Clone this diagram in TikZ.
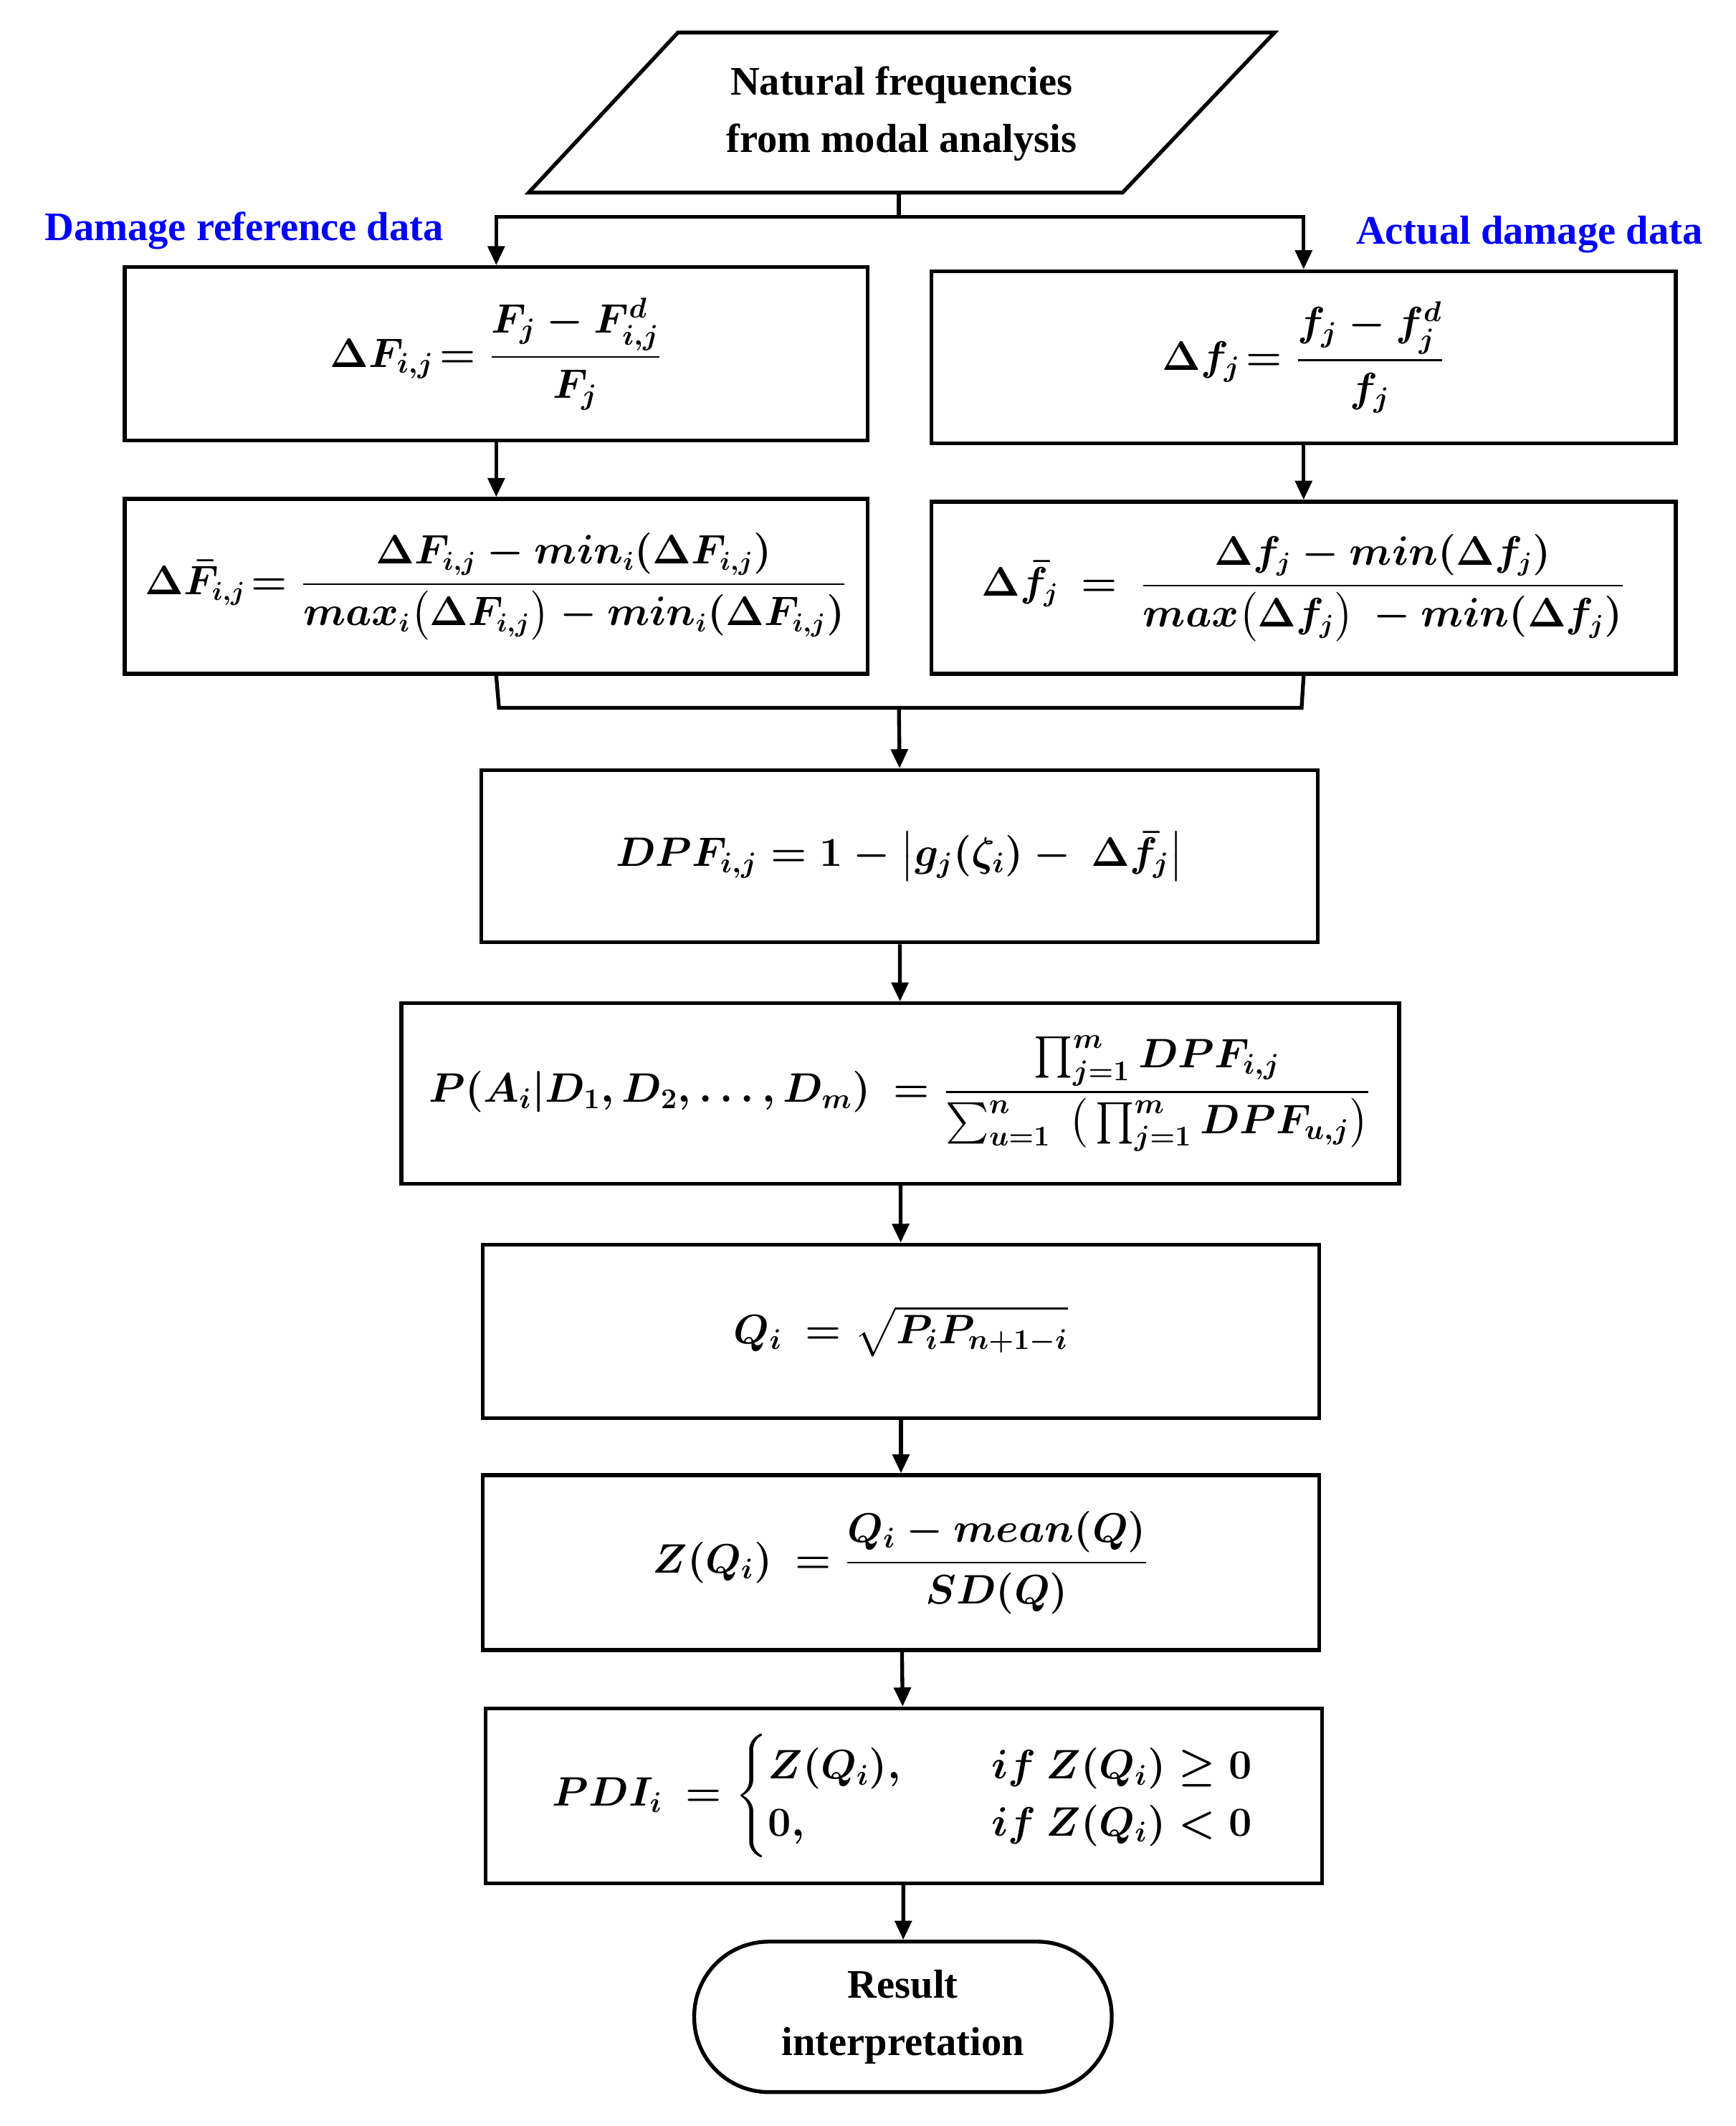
\documentclass[tikz,border=0pt]{standalone}
\usepackage{amsmath}
\usepackage{fontspec}
\setmainfont{Liberation Serif}
\usetikzlibrary{arrows.meta}
\begin{document}
\boldmath
\begin{tikzpicture}[x=0.02cm,y=-0.02cm,
  box/.style={draw,line width=1.6pt,inner sep=0pt,font=\fontsize{17}{20}\selectfont\bfseries},
  lab/.style={text=blue,font=\fontsize{17}{20}\selectfont\bfseries},
  arr/.style={line width=1.6pt,-{Triangle[length=8pt,width=7pt]}},
  ln/.style={line width=1.6pt}]
\useasboundingbox (0,0) rectangle (1280,1568);
\draw[ln] (390,142) -- (500,24) -- (940,24) -- (828,142) -- cycle;
\node[font=\fontsize{17}{24}\selectfont\bfseries,align=center] (top) at (665,84) {Natural frequencies\\from modal analysis};
\coordinate (ts) at (663,142);
\coordinate (j1) at (663,160);
\node[lab] (l1) at (180,170) {Damage reference data};
\node[lab] (l2) at (1128,173) {Actual damage data};
\node[box,minimum width=10.96cm,minimum height=2.56cm] (a1) at (366,261) {$\Delta F_{i,j}\!=\dfrac{F_j-F^d_{i,j}}{F_j}$};
\node[box,minimum width=10.98cm,minimum height=2.54cm] (b1) at (961.5,263.5) {$\Delta f_j\!=\dfrac{f_j-f^d_j}{f_j}$};
\node[box,minimum width=10.96cm,minimum height=2.58cm,font=\fontsize{16}{19}\selectfont] (a2) at (366,432.5) {$\Delta\bar F_{i,j}\!=\dfrac{\Delta F_{i,j}-min_i(\Delta F_{i,j})}{max_i\big(\Delta F_{i,j}\big)-min_i(\Delta F_{i,j})}$};
\node[box,minimum width=10.98cm,minimum height=2.54cm,font=\fontsize{16}{19}\selectfont] (b2) at (961.5,433.5) {$\Delta\bar f_j\ =\ \dfrac{\Delta f_j-min(\Delta f_j)}{max\big(\Delta f_j\big)\ -min(\Delta f_j)}$};
\coordinate (ja) at (368,522);
\coordinate (jb) at (960,522);
\coordinate (jm) at (663,522);
\node[box,minimum width=12.34cm,minimum height=2.54cm] (c) at (663.5,631.5) {$DPF_{i,j}=1-\left|g_j(\zeta_i)-\ \Delta\bar f_j\right|$};
\node[box,minimum width=14.72cm,minimum height=2.66cm] (d) at (664,806.5) {$P(A_i|D_1,D_2,\dots,D_m)\ =\dfrac{\prod_{j=1}^m DPF_{i,j}}{\sum_{u=1}^n\ \big(\prod_{j=1}^m DPF_{u,j}\big)}$};
\node[box,minimum width=12.34cm,minimum height=2.56cm] (e) at (664.5,982) {$Q_i\ =\sqrt{P_iP_{n+1-i}}$};
\node[box,minimum width=12.34cm,minimum height=2.58cm] (f) at (664.5,1152.5) {$Z(Q_i)\ =\dfrac{Q_i-mean(Q)}{SD(Q)}$};
\node[box,minimum width=12.34cm,minimum height=2.58cm] (g) at (666.5,1324.5) {$PDI_i\ =\begin{cases}Z(Q_i), & \quad\ if\ Z(Q_i)\ge 0\\ 0, & \quad\ if\ Z(Q_i)<0\end{cases}$};
\node[box,rounded corners=1.1cm,minimum width=6.16cm,minimum height=2.22cm,align=center,font=\fontsize{17}{24}\selectfont\bfseries] (h) at (666,1487.5) {Result\\interpretation};
\draw[ln] (ts) -- (j1);
\draw[arr] (j1) -| (a1.north);
\draw[arr] (j1) -| (b1.north);
\draw[arr] (a1) -- (a2);
\draw[arr] (b1) -- (b2);
\draw[ln] (a2.south) -- (ja) -- (jb) -- (b2.south);
\draw[arr] (jm) -- (c.north);
\draw[arr] (c) -- (d);
\draw[arr] (d) -- (e);
\draw[arr] (e) -- (f);
\draw[arr] (f) -- (g);
\draw[arr] (g) -- (h);
\end{tikzpicture}
\end{document}
